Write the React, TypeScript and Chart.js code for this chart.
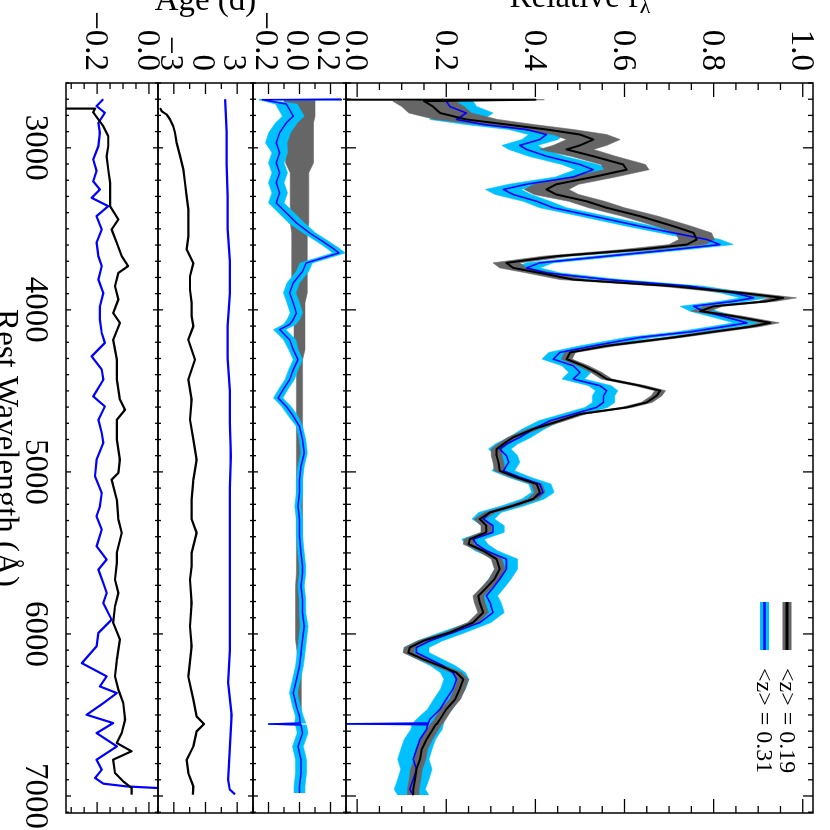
import React, { useEffect, useRef } from "react";
import { Chart, registerables } from "chart.js";

Chart.register(...registerables);

const SERIF = '"Liberation Serif", "DejaVu Serif", "Times New Roman", serif';
const GREY = "#666666";
const CYAN = "#00c0ff";
const BLUE = "#0000ff";
const BLACK = "#000000";

// ---------------- Top panel: relative flux ----------------
const fluxWave = [
  2700, 2703, 2712, 2745, 2785, 2825, 2856, 2887, 2918, 2949,
  2985, 3010, 3052, 3103, 3135, 3180, 3225, 3257, 3288, 3330,
  3370, 3422, 3484, 3525, 3566, 3597, 3628, 3669, 3710, 3741,
  3772, 3813, 3854, 3895, 3926, 3947, 3978, 4008, 4039, 4080,
  4105, 4135, 4170, 4222, 4263, 4304, 4345, 4386, 4427, 4468,
  4499, 4530, 4571, 4602, 4643, 4684, 4736, 4787, 4828, 4859,
  4900, 4941, 4993, 5034, 5075, 5126, 5167, 5209, 5250, 5291,
  5332, 5373, 5415, 5446, 5487, 5538, 5600, 5662, 5715, 5765,
  5806, 5868, 5930, 5991, 6043, 6084, 6115, 6156, 6197, 6239,
  6280, 6341, 6403, 6465, 6527, 6550, 6555, 6560, 6588, 6650,
  6712, 6774, 6835, 6897, 6959, 6995,
];
const fluxLowZ = [
  -0.025, 0.40, 0.15, 0.17, 0.186, 0.245, 0.335, 0.425, 0.50, 0.53,
  0.50, 0.47, 0.53, 0.597, 0.605, 0.53, 0.447, 0.425, 0.447, 0.515,
  0.56, 0.635, 0.71, 0.755, 0.762, 0.74, 0.635, 0.447, 0.335, 0.35,
  0.41, 0.485, 0.71, 0.86, 0.956, 0.92, 0.80, 0.77, 0.845, 0.927,
  0.88, 0.80, 0.71, 0.56, 0.478, 0.47, 0.507, 0.537, 0.56, 0.635,
  0.68, 0.672, 0.65, 0.605, 0.50, 0.455, 0.395, 0.35, 0.328, 0.313,
  0.313, 0.317, 0.32, 0.358, 0.403, 0.41, 0.395, 0.35, 0.298, 0.275,
  0.29, 0.29, 0.253, 0.25, 0.283, 0.313, 0.32, 0.308, 0.29, 0.272,
  0.275, 0.283, 0.26, 0.208, 0.148, 0.118, 0.115, 0.148, 0.186, 0.223,
  0.238, 0.23, 0.22, 0.20, 0.186, 0.18, 0.178, 0.176, 0.17, 0.156,
  0.145, 0.141, 0.133, 0.13, 0.126, 0.126,
];
const fluxHighZ = [
  0.19, 0.19, 0.20, 0.208, 0.245, 0.223, 0.283, 0.38, 0.425, 0.41,
  0.365, 0.38, 0.425, 0.50, 0.53, 0.485, 0.38, 0.328, 0.35, 0.403,
  0.44, 0.53, 0.635, 0.71, 0.785, 0.814, 0.71, 0.56, 0.41, 0.38,
  0.425, 0.56, 0.747, 0.845, 0.89, 0.845, 0.755, 0.777, 0.82, 0.875,
  0.82, 0.75, 0.635, 0.53, 0.455, 0.44, 0.485, 0.50, 0.485, 0.545,
  0.56, 0.553, 0.553, 0.537, 0.485, 0.433, 0.395, 0.365, 0.335, 0.32,
  0.335, 0.34, 0.328, 0.365, 0.41, 0.417, 0.395, 0.35, 0.298, 0.283,
  0.305, 0.305, 0.26, 0.268, 0.29, 0.335, 0.335, 0.32, 0.305, 0.29,
  0.298, 0.305, 0.275, 0.215, 0.163, 0.133, 0.133, 0.163, 0.193, 0.215,
  0.223, 0.215, 0.20, 0.186, 0.163, 0.16, -0.025, 0.158, 0.156, 0.141,
  0.133, 0.126, 0.133, 0.126, 0.118, 0.126,
];
const fluxLowZErr = [
  0, 0.02, 0.07, 0.07, 0.07, 0.07, 0.06, 0.06, 0.06, 0.06,
  0.06, 0.06, 0.05, 0.05, 0.05, 0.05, 0.05, 0.05, 0.05, 0.04,
  0.04, 0.04, 0.04, 0.04, 0.04, 0.04, 0.04, 0.03, 0.03, 0.03,
  0.03, 0.03, 0.03, 0.03, 0.03, 0.02, 0.02, 0.02, 0.02, 0.02,
  0.02, 0.02, 0.02, 0.02, 0.012, 0.012, 0.012, 0.012, 0.012, 0.012,
  0.012, 0.012, 0.012, 0.012, 0.012, 0.012, 0.012, 0.012, 0.012, 0.012,
  0.012, 0.012, 0.012, 0.012, 0.012, 0.012, 0.012, 0.012, 0.012, 0.012,
  0.012, 0.012, 0.012, 0.012, 0.012, 0.012, 0.012, 0.012, 0.012, 0.012,
  0.012, 0.012, 0.012, 0.012, 0.012, 0.012, 0.012, 0.012, 0.012, 0.012,
  0.012, 0.012, 0.012, 0.013, 0.013, 0.013, 0.013, 0.013, 0.013, 0.013,
  0.013, 0.013, 0.013, 0.013, 0.013, 0.013,
];
const fluxHighZErr = [
  0.06, 0.06, 0.06, 0.06, 0.06, 0.06, 0.04, 0.04, 0.04, 0.04,
  0.04, 0.04, 0.04, 0.04, 0.04, 0.04, 0.04, 0.04, 0.04, 0.03,
  0.03, 0.03, 0.03, 0.03, 0.03, 0.03, 0.03, 0.03, 0.03, 0.03,
  0.03, 0.03, 0.03, 0.03, 0.03, 0.03, 0.03, 0.03, 0.03, 0.03,
  0.03, 0.03, 0.03, 0.03, 0.025, 0.025, 0.025, 0.025, 0.025, 0.025,
  0.025, 0.025, 0.025, 0.025, 0.025, 0.025, 0.025, 0.025, 0.025, 0.025,
  0.025, 0.025, 0.025, 0.025, 0.025, 0.025, 0.025, 0.025, 0.025, 0.025,
  0.025, 0.025, 0.025, 0.025, 0.025, 0.025, 0.025, 0.025, 0.025, 0.025,
  0.025, 0.025, 0.025, 0.028, 0.028, 0.028, 0.028, 0.028, 0.028, 0.028,
  0.028, 0.028, 0.028, 0.028, 0.03, 0.035, 0, 0.035, 0.035, 0.035,
  0.035, 0.035, 0.035, 0.035, 0.035, 0.035,
];

// ---------------- Residual panel ----------------
const resWave = [
  2700, 2703, 2730, 2805, 2846, 2907, 2969, 3031, 3093, 3154,
  3216, 3278, 3340, 3401, 3463, 3525, 3577, 3618, 3649, 3680,
  3711, 3762, 3833, 3895, 3957, 4020, 4060, 4090, 4122, 4184,
  4245, 4307, 4369, 4431, 4492, 4544, 4596, 4657, 4719, 4801,
  4883, 4965, 5048, 5130, 5212, 5294, 5397, 5500, 5582, 5623,
  5706, 5788, 5870, 5953, 6035, 6117, 6200, 6282, 6364, 6447,
  6509, 6550, 6556, 6562, 6611, 6694, 6776, 6858, 6941, 6982,
];
const resHighZ = [
  0.27, -0.24, -0.085, -0.04, -0.085, -0.128, -0.15, -0.128, -0.15, -0.128,
  -0.15, -0.128, -0.15, -0.085, -0.02, 0.064, 0.149, 0.213, 0.255, 0.149,
  0.043, 0.02, -0.04, -0.064, -0.04, -0.02, -0.04, -0.064, -0.128, -0.064,
  -0.04, -0.01, -0.04, -0.064, -0.106, -0.138, -0.085, -0.04, 0.0, 0.02,
  0.03, 0.01, 0.0, 0.0, -0.01, 0.0, 0.0, 0.01, 0.02, 0.02,
  0.01, 0.02, 0.02, 0.03, 0.02, 0.01, 0.0, -0.02, -0.04, -0.02,
  0.0, 0.005, -0.2, 0.01, 0.02, -0.01, 0.01, 0.01, 0.0, 0.0,
];
const resHighZErr = [
  0, 0.02, 0.07, 0.07, 0.07, 0.07, 0.07, 0.05, 0.05, 0.05,
  0.05, 0.05, 0.05, 0.05, 0.05, 0.04, 0.04, 0.04, 0.04, 0.04,
  0.04, 0.04, 0.04, 0.04, 0.04, 0.04, 0.04, 0.04, 0.04, 0.04,
  0.03, 0.03, 0.03, 0.03, 0.03, 0.03, 0.03, 0.03, 0.02, 0.02,
  0.02, 0.02, 0.02, 0.02, 0.02, 0.02, 0.02, 0.02, 0.02, 0.02,
  0.02, 0.02, 0.02, 0.025, 0.025, 0.025, 0.025, 0.025, 0.025, 0.025,
  0.025, 0.035, 0, 0.035, 0.035, 0.035, 0.035, 0.035, 0.035, 0.035,
];
const resLowZErr = [
  0.1, 0.1, 0.1, 0.1, 0.09, 0.09, 0.09, 0.09, 0.09, 0.06,
  0.06, 0.06, 0.06, 0.06, 0.06, 0.05, 0.05, 0.05, 0.05, 0.05,
  0.05, 0.05, 0.05, 0.05, 0.035, 0.035, 0.035, 0.035, 0.035, 0.035,
  0.035, 0.02, 0.02, 0.02, 0.02, 0.02, 0.02, 0.02, 0.02, 0.02,
  0.02, 0.02, 0.02, 0.02, 0.02, 0.02, 0.02, 0.02, 0.02, 0.02,
  0.025, 0.025, 0.025, 0.025, 0.025, 0.015, 0.012, 0.012, 0.012, 0.012,
  0.012, 0.012, 0.012, 0.012, 0.012, 0.012, 0.012, 0.012, 0.012, 0.012,
];

// ---------------- Age panel ----------------
const ageLowWave = [
  2755, 2774, 2795, 2825, 2867, 2907, 2969, 3052, 3134, 3216,
  3299, 3381, 3463, 3546, 3628, 3711, 3793, 3875, 3957, 4040,
  4101, 4184, 4307, 4431, 4554, 4678, 4801, 4925, 5048, 5171,
  5294, 5376, 5500, 5582, 5665, 5809, 5953, 6076, 6262, 6406,
  6509, 6556, 6601, 6694, 6776, 6858, 6941, 6992,
];
const ageLowZ = [
  -4.3, -4.15, -3.67, -3.36, -3.05, -2.89, -2.73, -2.41, -2.10, -1.94,
  -1.78, -1.63, -1.63, -1.63, -1.78, -1.15, -1.47, -1.47, -1.31, -1.31,
  -1.15, -1.63, -1.0, -1.63, -1.31, -1.47, -1.15, -0.84, -1.15, -1.31,
  -1.31, -0.84, -1.31, -1.31, -1.47, -1.31, -1.47, -1.31, -1.63, -1.15,
  -0.84, -0.14, -0.84, -1.15, -1.78, -1.63, -1.15, -1.2,
];
const ageHighWave = [
  2700, 2900, 3100, 3300, 3500, 3700, 3900, 4100, 4300, 4500,
  4700, 4900, 5100, 5300, 5500, 5700, 5900, 6100, 6300, 6500,
  6700, 6900, 6960, 6990,
];
const ageHighZ = [
  1.85, 2.0, 2.0, 2.1, 2.1, 2.3, 2.3, 2.1, 2.1, 2.3,
  2.3, 2.4, 2.3, 2.3, 2.3, 2.3, 2.3, 2.3, 2.15, 2.47,
  2.3, 2.15, 2.3, 2.8,
];

// ---------------- Bottom panel ----------------
const diffLowWave = [
  2755, 2758, 2780, 2825, 2867, 2928, 2990, 3052, 3134, 3216,
  3299, 3360, 3442, 3504, 3586, 3669, 3730, 3772, 3854, 3936,
  4019, 4080, 4184, 4307, 4431, 4554, 4616, 4678, 4801, 4925,
  5007, 5048, 5171, 5294, 5376, 5500, 5560, 5665, 5747, 5830,
  5932, 6035, 6159, 6262, 6344, 6426, 6529, 6611, 6673, 6724,
  6776, 6858, 6910, 6951, 6992,
];
const diffLowZ = [
  -0.32, -0.208, -0.215, -0.195, -0.176, -0.157, -0.157, -0.163, -0.157, -0.150,
  -0.150, -0.150, -0.118, -0.144, -0.124, -0.105, -0.080, -0.118, -0.131, -0.118,
  -0.138, -0.112, -0.138, -0.124, -0.124, -0.112, -0.092, -0.124, -0.124, -0.112,
  -0.118, -0.144, -0.124, -0.118, -0.105, -0.124, -0.124, -0.131, -0.118, -0.131,
  -0.138, -0.112, -0.124, -0.131, -0.118, -0.099, -0.092, -0.105, -0.124, -0.067,
  -0.138, -0.131, -0.099, -0.067, -0.067,
];
const diffHighWave = [
  2700, 2743, 2784, 2846, 2907, 2990, 3072, 3144, 3206, 3257,
  3309, 3360, 3422, 3504, 3586, 3669, 3730, 3813, 3895, 3977,
  4060, 4143, 4204, 4287, 4369, 4431, 4534, 4596, 4678, 4760,
  4822, 4925, 5027, 5130, 5212, 5274, 5356, 5459, 5541, 5603,
  5685, 5747, 5809, 5912, 5994, 6076, 6180, 6262, 6324, 6365,
  6427, 6499, 6550, 6612, 6694, 6776, 6838, 6889, 6924, 6941,
  6951,
];
const diffHighZ = [
  -0.176, -0.202, -0.170, -0.195, -0.189, -0.195, -0.215, -0.202, -0.215, -0.189,
  -0.221, -0.157, -0.202, -0.182, -0.202, -0.195, -0.182, -0.195, -0.176, -0.189,
  -0.189, -0.182, -0.170, -0.221, -0.182, -0.176, -0.215, -0.170, -0.195, -0.182,
  -0.176, -0.202, -0.208, -0.182, -0.189, -0.202, -0.182, -0.202, -0.163, -0.195,
  -0.176, -0.163, -0.176, -0.144, -0.195, -0.202, -0.259, -0.163, -0.189, -0.124,
  -0.176, -0.240, -0.138, -0.202, -0.124, -0.202, -0.182, -0.208, -0.176, -0.086,
  0.035,
];

// ---------------- Axes, ticks, labels ----------------
const waveTicks = [3000, 4000, 5000, 6000, 7000];
const fluxTicks = [0, 0.2, 0.4, 0.6, 0.8, 1.0];
const resTicks = [-0.2, 0, 0.2];
const ageTicks = [-3, 0, 3];
const diffTicks = [-0.2, 0];
const legendLabels = ["<z> = 0.19", "<z> = 0.31"];
const xTitle = "Rest Wavelength (Å)";
const fluxTitle = ["Relative f", "λ"];
const ageTitle = "Age (d)";

const minus = (s: string) => s.replace("-", "\u2212");

type Panel = {
  id: string; min: number; max: number; weight: number; ticks: number[]; minor: number;
  labelOffset: number; xMajor: number; xMinor: number; yMajor: number; yMinor: number;
  fmt: (v: number) => string;
};

const panels: Panel[] = [
  { id: "yFlux", min: -0.025, max: 1.023, weight: 467, ticks: fluxTicks, minor: 0.05, labelOffset: 2,
    xMajor: 10, xMinor: 5, yMajor: 14, yMinor: 7, fmt: (v) => minus(v.toFixed(1)) },
  { id: "yRes", min: -0.3, max: 0.3, weight: 93, ticks: resTicks, minor: 0.1, labelOffset: 4,
    xMajor: 5, xMinor: 3, yMajor: 11, yMinor: 6, fmt: (v) => minus(v.toFixed(1)) },
  { id: "yAge", min: -4.5, max: 4.5, weight: 95, ticks: ageTicks, minor: 1.5, labelOffset: 4,
    xMajor: 5, xMinor: 3, yMajor: 11, yMinor: 6, fmt: (v) => minus(String(Math.round(v))) },
  { id: "yDiff", min: -0.32, max: 0.035, weight: 92, ticks: diffTicks, minor: 0.05, labelOffset: 2,
    xMajor: 5, xMinor: 3, yMajor: 11, yMinor: 6, fmt: (v) => minus(v.toFixed(1)) },
];

const panelById = (id: string) => panels.find((p) => p.id === id) as Panel;

function pts(xs: number[], ys: number[]) {
  return xs.map((x, i) => ({ x, y: ys[i] }));
}
function band(xs: number[], ys: number[] | null, es: number[], sign: number, p: Panel) {
  return xs.map((x, i) => {
    const c = ys ? ys[i] : 0;
    return { x, y: Math.min(p.max, Math.max(p.min, c + sign * es[i])) };
  });
}

function lineDs(data: any[], axis: string, color: string, width: number) {
  return {
    data, yAxisID: axis, xAxisID: "x", borderColor: color, borderWidth: width,
    pointRadius: 0, tension: 0, fill: false, borderJoinStyle: "round" as const,
  };
}
function bandDs(data: any[], axis: string, color: string, upper: boolean) {
  return {
    data, yAxisID: axis, xAxisID: "x", borderColor: color, borderWidth: 0.6,
    backgroundColor: color, pointRadius: 0, tension: 0, fill: upper ? "+1" : false,
  };
}

function ln(ctx: CanvasRenderingContext2D, x1: number, y1: number, x2: number, y2: number) {
  ctx.beginPath();
  ctx.moveTo(x1, y1);
  ctx.lineTo(x2, y2);
  ctx.stroke();
}

const decorPlugin = {
  id: "decor",
  afterDatasetsDraw(chart: any) {
    const ctx: CanvasRenderingContext2D = chart.ctx;
    const xs = chart.scales.x;
    const area = chart.chartArea;
    ctx.save();
    ctx.strokeStyle = BLACK;
    ctx.lineCap = "butt";
    for (const p of panels) {
      const ys = chart.scales[p.id];
      const top = ys.top;
      const bottom = ys.bottom;
      ctx.lineWidth = 1.5;
      ctx.strokeRect(area.left, top, area.right - area.left, bottom - top);
      ctx.lineWidth = 1.3;
      for (let k = Math.ceil(xs.min / 100); k * 100 <= xs.max; k++) {
        const v = k * 100;
        const px = xs.getPixelForValue(v);
        const len = v % 1000 === 0 ? p.xMajor : p.xMinor;
        ln(ctx, px, top, px, top + len);
        ln(ctx, px, bottom, px, bottom - len);
      }
      const n0 = Math.ceil(p.min / p.minor - 1e-6);
      const n1 = Math.floor(p.max / p.minor + 1e-6);
      for (let k = n0; k <= n1; k++) {
        const v = k * p.minor;
        const py = ys.getPixelForValue(v);
        const major = p.ticks.some((t) => Math.abs(t - v) < 1e-6);
        const len = major ? p.yMajor : p.yMinor;
        ln(ctx, area.left, py, area.left + len, py);
        ln(ctx, area.right, py, area.right - len, py);
      }
    }
    ctx.restore();
  },
  afterDraw(chart: any) {
    const ctx: CanvasRenderingContext2D = chart.ctx;
    const area = chart.chartArea;
    ctx.save();
    ctx.fillStyle = BLACK;
    const yf = chart.scales.yFlux;
    const big = `33px ${SERIF}`;
    const small = `22px ${SERIF}`;
    ctx.font = big;
    const w1 = ctx.measureText(fluxTitle[0]).width;
    ctx.font = small;
    const w2 = ctx.measureText(fluxTitle[1]).width;
    ctx.save();
    ctx.translate(7, (yf.top + yf.bottom) / 2);
    ctx.rotate(-Math.PI / 2);
    ctx.textBaseline = "alphabetic";
    ctx.textAlign = "left";
    ctx.font = big;
    ctx.fillText(fluxTitle[0], -(w1 + w2) / 2, 0);
    ctx.font = small;
    ctx.fillText(fluxTitle[1], -(w1 + w2) / 2 + w1 + 1, 6);
    ctx.restore();

    const ya = chart.scales.yAge;
    ctx.save();
    ctx.translate(10, (ya.top + ya.bottom) / 2);
    ctx.rotate(-Math.PI / 2);
    ctx.textBaseline = "alphabetic";
    ctx.textAlign = "center";
    ctx.font = big;
    ctx.fillText(ageTitle, 0, 0);
    ctx.restore();

    ctx.font = big;
    ctx.textAlign = "center";
    ctx.textBaseline = "top";
    ctx.fillText(xTitle, (area.left + area.right) / 2, 809);

    const ds = chart.data.datasets;
    const entries = [
      { label: legendLabels[0], band: ds[2].backgroundColor, line: ds[0].borderColor, lw: 3, y: area.top + 26 },
      { label: legendLabels[1], band: ds[4].backgroundColor, line: ds[1].borderColor, lw: 2.5, y: area.top + 48.5 },
    ];
    const x0 = area.right - 211;
    const x1 = area.right - 163;
    for (const e of entries) {
      ctx.strokeStyle = e.band;
      ctx.lineWidth = 9;
      ln(ctx, x0, e.y, x1, e.y);
      ctx.strokeStyle = e.line;
      ctx.lineWidth = e.lw;
      ln(ctx, x0, e.y, x1, e.y);
      ctx.font = `24px ${SERIF}`;
      ctx.textAlign = "left";
      ctx.textBaseline = "middle";
      ctx.fillStyle = BLACK;
      ctx.fillText(e.label, x1 + 18, e.y + 1);
    }
    ctx.restore();
  },
};

function yScale(p: Panel) {
  return {
    type: "linear" as const,
    position: "left" as const,
    stack: "panels",
    stackWeight: p.weight,
    min: p.min,
    max: p.max,
    offset: false,
    grid: { display: false, drawTicks: false },
    border: { display: false },
    afterBuildTicks: (s: any) => {
      s.ticks = p.ticks.map((v) => ({ value: v }));
    },
    afterFit: (s: any) => {
      s.width = 83;
      s.paddingTop = 0;
      s.paddingBottom = 0;
    },
    ticks: {
      font: { family: SERIF, size: 33 },
      color: BLACK,
      padding: 12,
      labelOffset: p.labelOffset,
      autoSkip: false,
      callback: (v: any) => p.fmt(Number(v)),
    },
  };
}

export default function App() {
  const ref = useRef<HTMLCanvasElement | null>(null);

  useEffect(() => {
    if (!ref.current) return;
    const pf = panelById("yFlux");
    const pr = panelById("yRes");
    const datasets = [
      lineDs(pts(fluxWave, fluxLowZ), "yFlux", BLACK, 2),
      lineDs(pts(fluxWave, fluxHighZ), "yFlux", BLUE, 1.6),
      bandDs(band(fluxWave, fluxLowZ, fluxLowZErr, 1, pf), "yFlux", GREY, true),
      bandDs(band(fluxWave, fluxLowZ, fluxLowZErr, -1, pf), "yFlux", GREY, false),
      bandDs(band(fluxWave, fluxHighZ, fluxHighZErr, 1, pf), "yFlux", CYAN, true),
      bandDs(band(fluxWave, fluxHighZ, fluxHighZErr, -1, pf), "yFlux", CYAN, false),
      lineDs(pts(resWave, resHighZ), "yRes", BLUE, 1.5),
      bandDs(band(resWave, resHighZ, resHighZErr, 1, pr), "yRes", CYAN, true),
      bandDs(band(resWave, resHighZ, resHighZErr, -1, pr), "yRes", CYAN, false),
      bandDs(band(resWave, null, resLowZErr, 1, pr), "yRes", GREY, true),
      bandDs(band(resWave, null, resLowZErr, -1, pr), "yRes", GREY, false),
      lineDs(pts(ageLowWave, ageLowZ), "yAge", BLACK, 2.2),
      lineDs(pts(ageHighWave, ageHighZ), "yAge", BLUE, 2.2),
      lineDs(pts(diffLowWave, diffLowZ), "yDiff", BLACK, 2.2),
      lineDs(pts(diffHighWave, diffHighZ), "yDiff", BLUE, 2.2),
    ];

    const chart = new Chart(ref.current, {
      type: "line",
      data: { datasets: datasets as any },
      plugins: [decorPlugin as any],
      options: {
        responsive: false,
        animation: false,
        devicePixelRatio: 1,
        events: [],
        layout: { padding: { top: 17, right: 17, left: 0, bottom: 0 } },
        plugins: { legend: { display: false }, tooltip: { enabled: false } },
        scales: {
          x: {
            type: "linear",
            position: "bottom",
            min: 2600,
            max: 7105,
            grid: { display: false, drawTicks: false },
            border: { display: false },
            afterBuildTicks: (s: any) => {
              s.ticks = waveTicks.map((v) => ({ value: v }));
            },
            afterFit: (s: any) => {
              s.height = 66;
              s.paddingLeft = 0;
              s.paddingRight = 0;
            },
            ticks: {
              font: { family: SERIF, size: 33 },
              color: BLACK,
              padding: 12,
              maxRotation: 0,
              autoSkip: false,
              callback: (v: any) => String(v),
            },
          },
          yDiff: yScale(panels[3]),
          yAge: yScale(panels[2]),
          yRes: yScale(panels[1]),
          yFlux: yScale(panels[0]),
        } as any,
      },
    });
    return () => chart.destroy();
  }, []);

  return (
    <div
      style={{
        position: "fixed",
        left: 0,
        top: 0,
        width: 830,
        height: 830,
        transform: "rotate(90deg)",
        transformOrigin: "50% 50%",
        background: "#ffffff",
      }}
    >
      <canvas ref={ref} width={830} height={830} style={{ display: "block", width: 830, height: 830 }} />
    </div>
  );
}
